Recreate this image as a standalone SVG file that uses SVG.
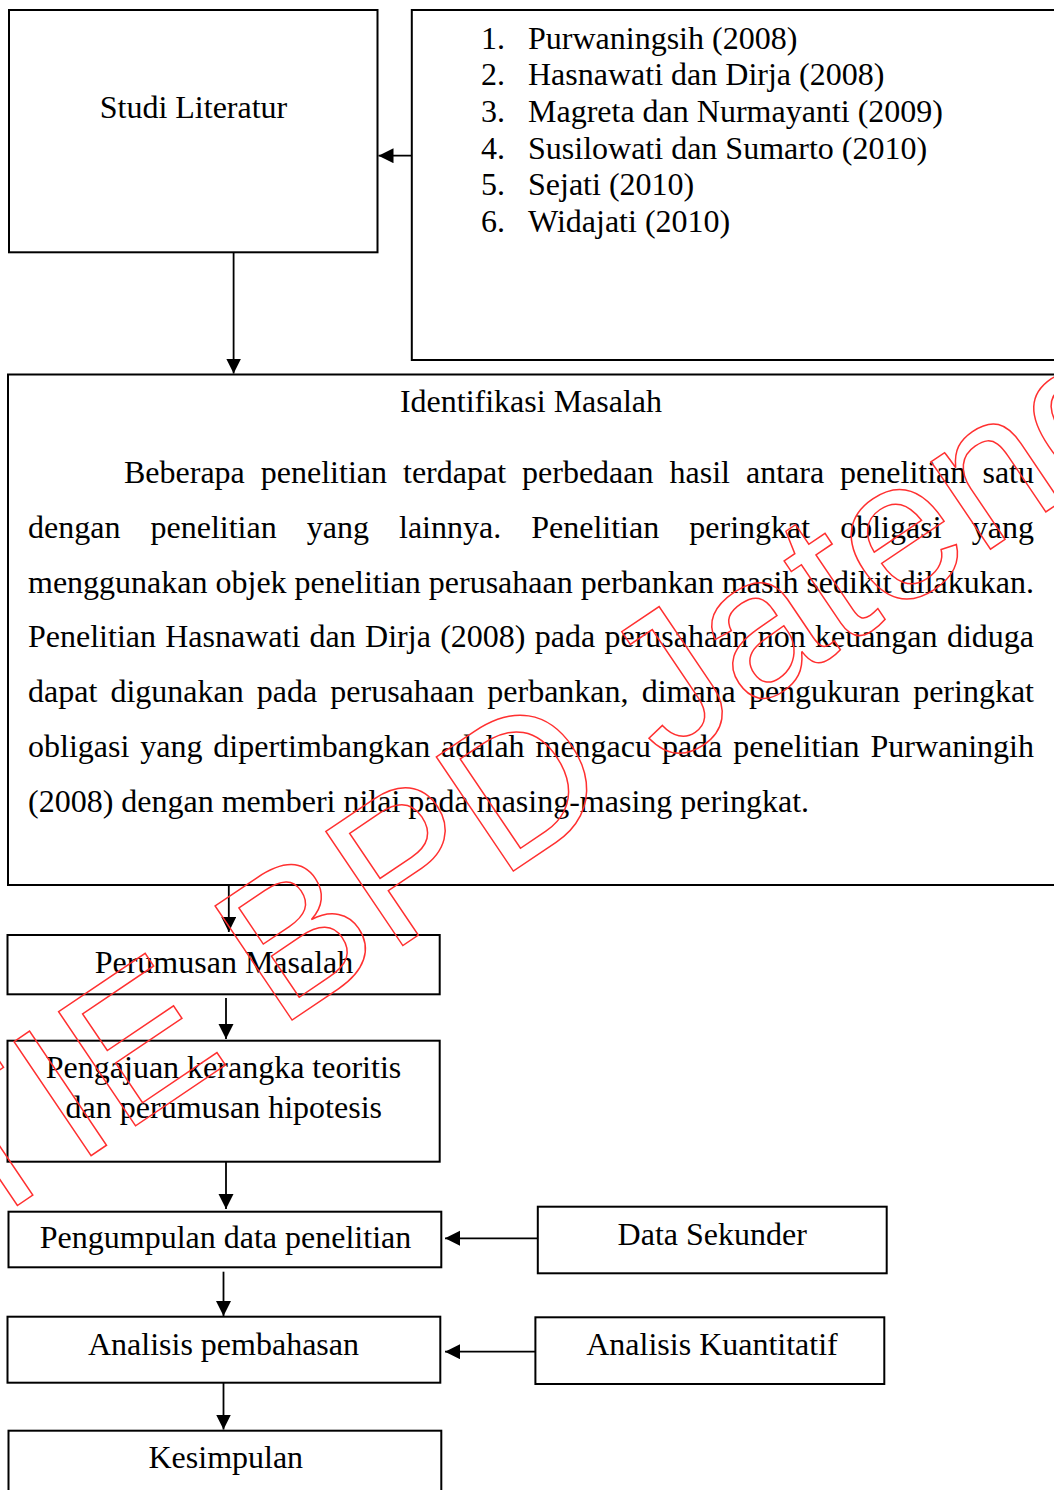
<svg xmlns="http://www.w3.org/2000/svg" width="1054" height="1490" viewBox="0 0 1054 1490">
  <style>
    .box { fill: #ffffff; stroke: #000000; stroke-width: 2; }
    .t { font-family: "Liberation Serif", "Times New Roman", serif; font-size: 32px; fill: #000000; }
    .c { text-anchor: middle; }
    .e { text-anchor: end; }
    .wire { stroke: #000000; stroke-width: 1.8; fill: none; }
    .wm { font-family: "Liberation Sans", Arial, sans-serif; font-size: 200px; fill: none; stroke: #ff3030; stroke-width: 1.5; }
  </style>
  <defs>
    <marker id="arrow" markerUnits="userSpaceOnUse" markerWidth="16" markerHeight="16" viewBox="0 0 16 16" refX="15" refY="7.5" orient="auto">
      <path d="M0,0 L15,7.5 L0,15 z" fill="#000000"/>
    </marker>
  </defs>
  <rect width="1054" height="1490" fill="#ffffff"/>

  <g id="studi-literatur">
    <rect class="box" x="9" y="10" width="368.5" height="242.3"/>
    <text class="t c" x="193.5" y="118">Studi Literatur</text>
  </g>

  <g id="referensi">
    <rect class="box" x="411.8" y="10" width="660" height="350"/>
    <text class="t" x="481" y="48.5">1.</text><text class="t" x="528" y="48.5">Purwaningsih (2008)</text>
    <text class="t" x="481" y="85.2">2.</text><text class="t" x="528" y="85.2">Hasnawati dan Dirja (2008)</text>
    <text class="t" x="481" y="121.9">3.</text><text class="t" x="528" y="121.9">Magreta dan Nurmayanti (2009)</text>
    <text class="t" x="481" y="158.6">4.</text><text class="t" x="528" y="158.6">Susilowati dan Sumarto (2010)</text>
    <text class="t" x="481" y="195.3">5.</text><text class="t" x="528" y="195.3">Sejati (2010)</text>
    <text class="t" x="481" y="232">6.</text><text class="t" x="528" y="232">Widajati (2010)</text>
  </g>

  <g id="identifikasi-masalah">
    <rect class="box" x="8" y="374.5" width="1070" height="510.5"/>
    <text class="t c" x="531" y="411.7">Identifikasi Masalah</text>
    <text class="t" x="124" y="483" word-spacing="8">Beberapa penelitian terdapat perbedaan hasil antara penelitian</text>
    <text class="t e" x="1034" y="483">satu</text>
    <text class="t" x="28" y="537.8" word-spacing="22.07">dengan penelitian yang lainnya. Penelitian peringkat obligasi</text>
    <text class="t e" x="1034" y="537.8">yang</text>
    <text class="t" x="28" y="592.5">menggunakan objek penelitian perusahaan perbankan masih sedikit</text>
    <text class="t e" x="1034" y="592.5">dilakukan.</text>
    <text class="t" x="28" y="647.3" word-spacing="1.29">Penelitian Hasnawati dan Dirja (2008) pada perusahaan non keuangan</text>
    <text class="t e" x="1034" y="647.3">diduga</text>
    <text class="t" x="28" y="702" word-spacing="5.09">dapat digunakan pada perusahaan perbankan, dimana pengukuran</text>
    <text class="t e" x="1034" y="702">peringkat</text>
    <text class="t" x="28" y="756.8" word-spacing="2.91">obligasi yang dipertimbangkan adalah mengacu pada penelitian</text>
    <text class="t e" x="1034" y="756.8">Purwaningih</text>
    <text class="t" x="28" y="811.5">(2008) dengan memberi nilai pada masing-masing peringkat.</text>
  </g>

  <g id="perumusan-masalah">
    <rect class="box" x="7.5" y="935" width="432.2" height="59.3"/>
    <text class="t c" x="224" y="973">Perumusan Masalah</text>
  </g>

  <g id="pengajuan-kerangka">
    <rect class="box" x="7.5" y="1040.7" width="432.2" height="121"/>
    <text class="t c" x="223.5" y="1078.3">Pengajuan kerangka teoritis</text>
    <text class="t c" x="223.8" y="1118.3">dan perumusan hipotesis</text>
  </g>

  <g id="pengumpulan-data">
    <rect class="box" x="8.5" y="1211.7" width="432.8" height="55.6"/>
    <text class="t c" x="225.5" y="1248.3">Pengumpulan data penelitian</text>
  </g>

  <g id="data-sekunder">
    <rect class="box" x="537.8" y="1206.7" width="348.9" height="66.6"/>
    <text class="t c" x="712.2" y="1245">Data Sekunder</text>
  </g>

  <g id="analisis-pembahasan">
    <rect class="box" x="7.5" y="1316.7" width="432.8" height="66"/>
    <text class="t c" x="223.5" y="1355">Analisis pembahasan</text>
  </g>

  <g id="analisis-kuantitatif">
    <rect class="box" x="535.4" y="1317.3" width="348.9" height="66.7"/>
    <text class="t c" x="712" y="1355">Analisis Kuantitatif</text>
  </g>

  <g id="kesimpulan">
    <rect class="box" x="8.5" y="1430.7" width="432.8" height="80"/>
    <text class="t c" x="225.8" y="1468.3">Kesimpulan</text>
  </g>

  <g id="connectors">
    <line class="wire" x1="411.8" y1="155.7" x2="378.5" y2="155.7" marker-end="url(#arrow)"/>
    <line class="wire" x1="233.6" y1="252.3" x2="233.6" y2="373.5" marker-end="url(#arrow)"/>
    <line class="wire" x1="228.8" y1="885" x2="228.8" y2="932" marker-end="url(#arrow)"/>
    <line class="wire" x1="226" y1="998" x2="226" y2="1039" marker-end="url(#arrow)"/>
    <line class="wire" x1="226" y1="1161.7" x2="226" y2="1209" marker-end="url(#arrow)"/>
    <line class="wire" x1="537.8" y1="1238.3" x2="445" y2="1238.3" marker-end="url(#arrow)"/>
    <line class="wire" x1="223.5" y1="1271.7" x2="223.5" y2="1316" marker-end="url(#arrow)"/>
    <line class="wire" x1="535.4" y1="1351.7" x2="445" y2="1351.7" marker-end="url(#arrow)"/>
    <line class="wire" x1="223.5" y1="1382.7" x2="223.5" y2="1429.5" marker-end="url(#arrow)"/>
  </g>

  <g id="watermark">
    <text class="wm" x="-136" y="1309" transform="rotate(-34 -136 1309)">STIE BPD Jateng</text>
  </g>
</svg>
